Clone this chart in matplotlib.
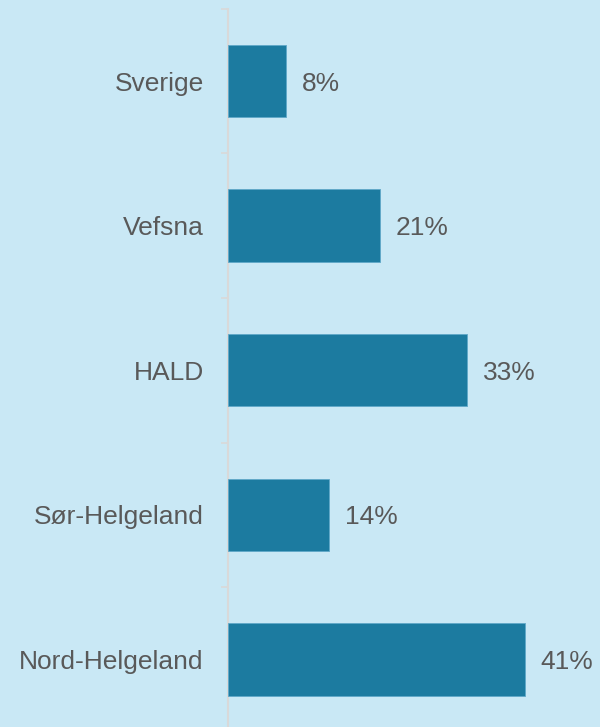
import matplotlib
matplotlib.use("Agg")
import matplotlib.pyplot as plt

categories = ["Sverige", "Vefsna", "HALD", "Sør-Helgeland", "Nord-Helgeland"]
values = [8, 21, 33, 14, 41]
labels = ["8%", "21%", "33%", "14%", "41%"]

bg = "#C9E8F5"
bar_color = "#1C7BA0"
text_color = "#595959"
axis_color = "#D9D9D9"

plt.rcParams['font.family'] = ['Liberation Sans', 'DejaVu Sans']

fig = plt.figure(figsize=(6.0, 7.27), dpi=100, facecolor=bg)
W, H = 600, 727
left = 228 / W
right = 600 / W
top_px = 8.7
bot_px = 731.8
ax = fig.add_axes([left, (H - bot_px) / H, right - left, (bot_px - top_px) / H])
ax.set_facecolor(bg)

n = len(categories)
ypos = list(range(n))
ax.barh(ypos, values, height=0.5, color=bar_color, edgecolor="#5FA8C8", linewidth=0.6, zorder=3)
ax.set_ylim(n - 0.5, -0.5)
ax.set_xlim(0, 372 / 7.24)

for y, v, lab in zip(ypos, values, labels):
    ax.annotate(lab, (v, y), xytext=(11.5, -1.8), textcoords="offset points",
                va="center", ha="left", fontsize=19, color=text_color)

ax.set_yticks(ypos)
ax.set_yticklabels(categories, fontsize=19, color=text_color)
ax.set_yticks([i - 0.5 for i in range(n + 1)], minor=True)
ax.tick_params(axis="y", which="major", length=0, pad=17.5)
ax.tick_params(axis="y", which="minor", length=5, width=1.2, color=axis_color)
ax.set_xticks([])

for s in ["top", "right", "bottom"]:
    ax.spines[s].set_visible(False)
ax.spines["left"].set_color(axis_color)
ax.spines["left"].set_linewidth(1.5)

fig.savefig("out.png", dpi=100, facecolor=bg)
